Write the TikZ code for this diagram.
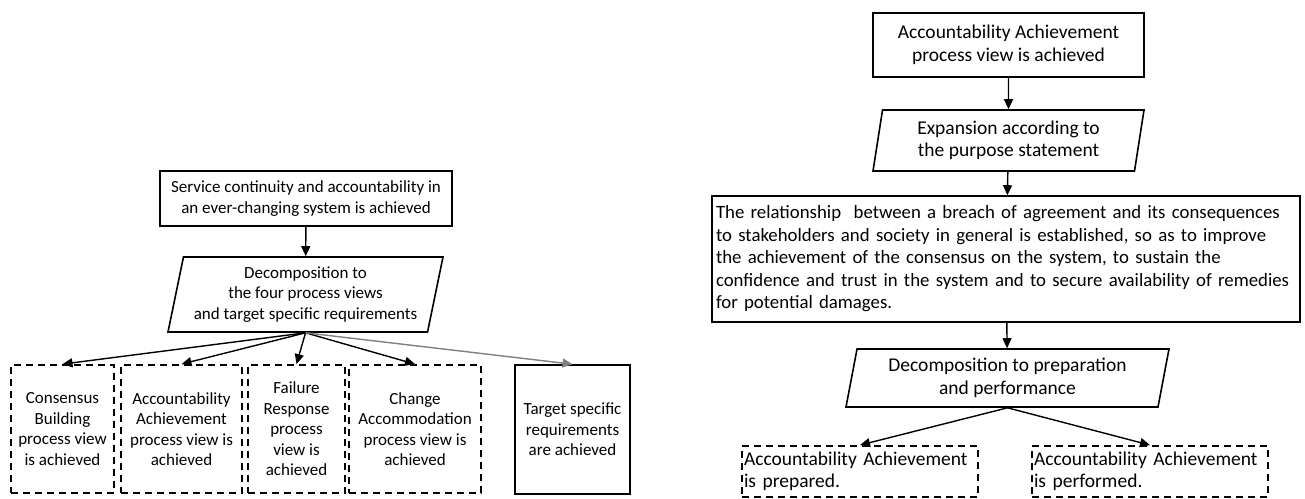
\documentclass[tikz,border=0pt]{standalone}
\usepackage{fontspec}
\setmainfont{Carlito}
\usepackage{tikz}
\usetikzlibrary{shapes.geometric, arrows.meta, positioning}

\begin{document}
\begin{tikzpicture}[
    x=1pt, y=-1pt,
    goal/.style={
        rectangle, draw=black, line width=1.6pt,
        inner sep=2pt, align=center
    },
    decomp/.style={
        trapezium, draw=black, line width=1.6pt,
        trapezium stretches body,
        inner sep=1pt, align=center
    },
    subgoal/.style={
        rectangle, draw=black, line width=1.8pt,
        dash pattern=on 7pt off 5pt,
        inner sep=2pt, align=center
    },
    small/.style={font=\fontsize{17pt}{20.5pt}\selectfont},
    large/.style={font=\fontsize{19.5pt}{22.5pt}\selectfont},
    arrow/.style={-{Triangle[length=10pt, width=9pt]}, line width=1.4pt},
]
\useasboundingbox (0,0) rectangle (1305,498);

% Linke Seite
\node[goal, small, minimum width=292pt, minimum height=55pt] (service) at (306,198.5)
    {Service continuity and accountability in\\an ever-changing system is achieved};
\node[decomp, small, trapezium left angle=75, trapezium right angle=105,
      minimum width=275pt, minimum height=75pt] (fourviews) at (305.5,294.5)
    {Decomposition to\\the four process views\\and target specific requirements};

\node[subgoal, small, minimum width=103pt, minimum height=128pt] (consensus) at (62.5,429)
    {Consensus\\Building\\process view\\is achieved};
\node[subgoal, small, minimum width=121pt, minimum height=128pt] (account) at (181.5,429)
    {Accountability\\Achievement\\process view is\\achieved};
\node[subgoal, small, minimum width=97pt, minimum height=128pt] (failure) at (296.5,429)
    {Failure\\Response\\process\\view is\\achieved};
\node[subgoal, small, minimum width=132pt, minimum height=128pt] (change) at (415,429)
    {Change\\Accommodation\\process view is\\achieved};
\node[goal, small, minimum width=115pt, minimum height=129pt] (target) at (572.5,429.5)
    {Target specific\\requirements\\are achieved};

\draw[arrow] (service) -- (fourviews);
\draw[arrow] (fourviews.south) -- (consensus.north);
\draw[arrow] (fourviews.south) -- (account.north);
\draw[arrow] (fourviews.south) -- (failure.north);
\draw[arrow] (fourviews.south) -- (change.north);
\draw[arrow, draw=gray, fill=gray] (fourviews.south) -- (target.north);

% Rechte Seite
\node[goal, large, minimum width=271pt, minimum height=64pt] (aagoal) at (1008.5,45)
    {Accountability Achievement\\process view is achieved};
\node[decomp, large, trapezium left angle=77, trapezium right angle=103,
      minimum width=271pt, minimum height=61pt] (expansion) at (1008.5,140.5)
    {Expansion according to\\the purpose statement};
\node[goal, align=left, inner xsep=4pt, text width=580pt,
      font=\fontsize{18.8pt}{22.5pt}\selectfont,
      minimum height=126pt] (relation) at (1006,259)
    {The relationship\ \ between a breach of agreement and its consequences\\
     to stakeholders and society in general is established, so as to improve\\
     the achievement of the consensus on the system, to sustain the\\
     confidence and trust in the system and to secure availability of remedies\\
     for potential damages.};
\node[decomp, large, trapezium left angle=75, trapezium right angle=105,
      minimum width=323pt, minimum height=58pt] (prepperf) at (1007.5,378)
    {Decomposition to preparation\\and performance};

\node[subgoal, large, align=left, text width=232pt, minimum height=51pt] (prepared) at (860,471.5)
    {Accountability Achievement\\is prepared.};
\node[subgoal, large, align=left, text width=232pt, minimum height=51pt] (performed) at (1150,471.5)
    {Accountability Achievement\\is performed.};

\draw[arrow] (aagoal) -- (expansion);
\draw[arrow] (expansion) -- (relation);
\draw[arrow] (relation) -- (prepperf);
\draw[arrow] (prepperf.south) -- (prepared.north);
\draw[arrow] (prepperf.south) -- (performed.north);

\end{tikzpicture}
\end{document}
